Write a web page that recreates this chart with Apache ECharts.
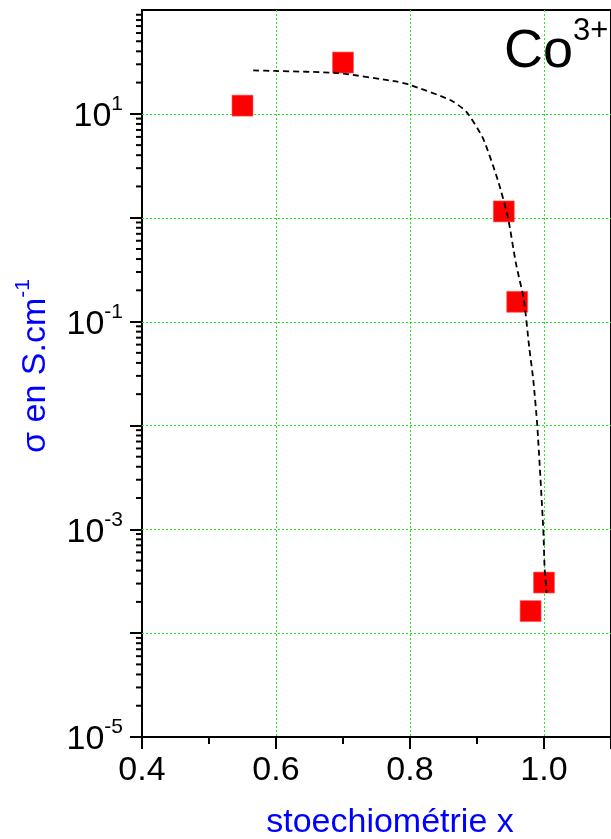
<!DOCTYPE html>
<html>
<head>
<meta charset="utf-8">
<script src="https://cdn.jsdelivr.net/npm/echarts@6/dist/echarts.min.js"></script>
<style>
html,body{margin:0;padding:0;background:#fff;}
#chart{width:611px;height:839px;}
</style>
</head>
<body>
<div id="chart"></div>
<script>
// Measured points (stoechiometry x, conductivity sigma S/cm)
const pointX = [0.55, 0.70, 0.94, 0.96, 1.00, 0.98];
const pointY = [12.0, 31.2, 1.15, 0.155, 3.07e-4, 1.63e-4];

// Dashed guide curve
const curveX = [0.566, 0.599, 0.692, 0.781, 0.800, 0.860, 0.884, 0.909, 0.931, 0.946, 0.958, 0.970, 0.978, 0.984, 0.990, 0.999, 1.001, 1.004];
const curveY = [26.2, 25.9, 24.7, 20.4, 19.0, 13.6, 10.5, 5.8, 2.31, 1.02, 0.366, 0.161, 0.056, 0.0274, 0.0099, 9.8e-4, 4.1e-4, 2.44e-4];

// Axis settings
const xMin = 0.4, xMax = 1.1, xStep = 0.2;
const yMin = 1e-5, yMax = 100;
const yLabelExponents = [1, -1, -3, -5];
const xLabels = ['0.4', '0.6', '0.8', '1.0'];
const yGridDecades = [1e1, 1e0, 1e-1, 1e-2, 1e-3, 1e-4];

// Minor log ticks values (2..9 per decade)
const yMinorTicks = [];
for (let d = -5; d < 2; d++) {
  for (let k = 2; k <= 9; k++) yMinorTicks.push(k * Math.pow(10, d));
}

const FONT = 'Liberation Sans, Arial, sans-serif';
const GRID_GREEN = '#22ee22';
const chart = echarts.init(document.getElementById('chart'), null, {renderer: 'canvas'});

const option = {
  backgroundColor: '#fff',
  animation: false,
  grid: {left: 142, top: 10, right: -5, bottom: 102, show: true, borderColor: '#000', borderWidth: 2, backgroundColor: 'transparent'},
  xAxis: {
    type: 'value', min: xMin, max: xMax, interval: xStep,
    axisLine: {show: true, onZero: false, lineStyle: {color: '#000', width: 2}},
    axisTick: {show: true, length: 12, lineStyle: {color: '#000', width: 2}},
    minorTick: {show: true, splitNumber: 2, length: 7, lineStyle: {color: '#000', width: 2}},
    splitLine: {show: true, lineStyle: {color: GRID_GREEN, width: 1, type: [2, 2]}},
    axisLabel: {
      fontFamily: FONT, fontSize: 34, color: '#000', margin: 17, showMaxLabel: false,
      formatter: function (v) { const s = v.toFixed(1); return xLabels.indexOf(s) >= 0 ? s : ''; }
    }
  },
  yAxis: {
    type: 'log', logBase: 10, min: yMin, max: yMax,
    axisLine: {show: true, onZero: false, lineStyle: {color: '#000', width: 2}},
    axisTick: {show: true, length: 12, lineStyle: {color: '#000', width: 2}},
    splitLine: {show: false},
    axisLabel: {
      fontFamily: FONT, color: '#000', margin: 19, showMaxLabel: false,
      formatter: function (v) {
        const e = Math.round(Math.log10(v));
        if (yLabelExponents.indexOf(e) < 0) return '';
        return '{b|10}{s|' + e + '}';
      },
      rich: {
        b: {fontFamily: FONT, fontSize: 34, color: '#000', padding: [6, 0, 0, 0]},
        s: {fontFamily: FONT, fontSize: 21, color: '#000', verticalAlign: 'top', padding: [0, 0, 0, 0]}
      }
    }
  },
  series: [
    {
      // horizontal decade grid lines
      type: 'custom',
      silent: true,
      clip: true,
      data: yGridDecades.map(v => [xMin, v]),
      renderItem: function (params, api) {
        const p = api.coord([api.value(0), api.value(1)]);
        const q = api.coord([xMax, api.value(1)]);
        const y = Math.round(p[1]) + 0.5;
        return {
          type: 'line',
          shape: {x1: p[0], y1: y, x2: q[0], y2: y},
          style: {stroke: GRID_GREEN, lineWidth: 1, lineDash: [2, 2]}
        };
      },
      z: 1
    },
    {
      // minor log ticks on the y axis
      type: 'custom',
      silent: true,
      clip: false,
      data: yMinorTicks.map(v => [xMin, v]),
      renderItem: function (params, api) {
        const p = api.coord([api.value(0), api.value(1)]);
        return {
          type: 'line',
          shape: {x1: p[0] - 6, y1: p[1], x2: p[0], y2: p[1]},
          style: {stroke: '#000', lineWidth: 2}
        };
      },
      z: 5
    },
    {
      type: 'scatter',
      symbol: 'rect',
      symbolSize: 21,
      itemStyle: {color: '#ff0000', borderColor: '#ff6060', borderWidth: 0.6, opacity: 1},
      data: pointX.map((x, i) => [x, pointY[i]]),
      z: 3
    },
    {
      type: 'line',
      showSymbol: false,
      symbol: 'none',
      smooth: 0.2,
      lineStyle: {color: '#000', width: 1.8, type: [6, 4]},
      data: curveX.map((x, i) => [x, curveY[i]]),
      z: 4
    }
  ],
  graphic: [
    {
      type: 'text', x: 390, y: 823,
      style: {text: 'stoechiométrie x', font: '34px ' + FONT, fill: '#0000ff', align: 'center', verticalAlign: 'middle'}
    },
    {
      type: 'text', x: 33, y: 366, rotation: Math.PI / 2,
      style: {
        text: '{a|σ en S.cm}{b|-1}', align: 'center', verticalAlign: 'middle',
        rich: {
          a: {fontFamily: FONT, fontSize: 34, fill: '#0000ff', color: '#0000ff', padding: [6, 0, 0, 0]},
          b: {fontFamily: FONT, fontSize: 21, fill: '#0000ff', color: '#0000ff', verticalAlign: 'top'}
        }
      }
    },
    {
      type: 'text', x: 504, y: 52,
      style: {text: 'Co', font: '54px ' + FONT, fill: '#000', align: 'left', verticalAlign: 'middle'}
    },
    {
      type: 'text', x: 573, y: 31,
      style: {text: '3+', font: '31px ' + FONT, fill: '#000', align: 'left', verticalAlign: 'middle'}
    }
  ]
};
chart.setOption(option);
</script>
</body>
</html>
